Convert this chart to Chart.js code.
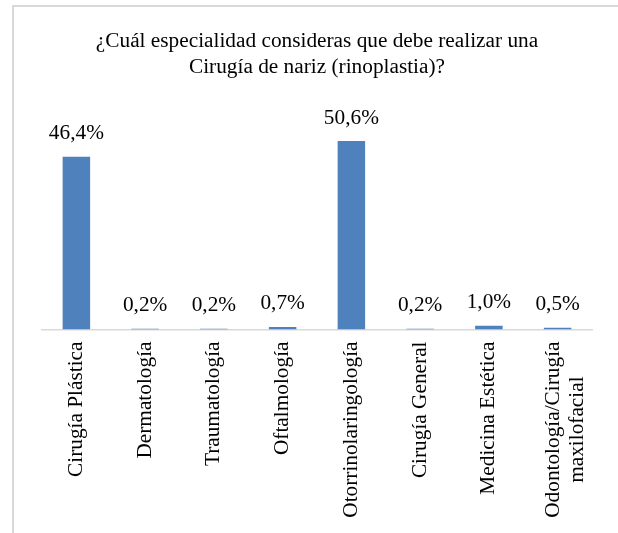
<!DOCTYPE html>
<html>
<head>
<meta charset="utf-8">
<script src="https://cdn.jsdelivr.net/npm/chart.js@4"></script>
<style>
  html, body { margin: 0; padding: 0; background: #fff; }
  #frame { position: absolute; left: 12px; top: 5px; width: 640px; height: 560px;
           border-left: 2px solid #d9d9d9; border-top: 2px solid #d9d9d9; }
  #wrap { position: absolute; left: 0; top: 0; width: 618px; height: 533px; }
</style>
</head>
<body>
<div id="frame"></div>
<div id="wrap"><canvas id="c" width="618" height="533"></canvas></div>
<script>
const titleLines = ["¿Cuál especialidad consideras que debe realizar una", "Cirugía de nariz (rinoplastia)?"];
const categories = [
  "Cirugía Plástica",
  "Dermatología",
  "Traumatología",
  "Oftalmología",
  "Otorrinolaringología",
  "Cirugía General",
  "Medicina Estética",
  ["Odontología/Cirugía", "maxilofacial"]
];
const percentages = [46.4, 0.2, 0.2, 0.7, 50.6, 0.2, 1.0, 0.5];

const FONT = "'Liberation Serif', 'Times New Roman', serif";
const FONT_STR = "21.3px " + FONT;

const valueLabels = {
  id: 'valueLabels',
  afterDatasetsDraw(chart) {
    const ctx = chart.ctx;
    const meta = chart.getDatasetMeta(0);
    ctx.save();
    ctx.font = FONT_STR;
    ctx.fillStyle = '#000';
    ctx.textAlign = 'center';
    ctx.textBaseline = 'middle';
    meta.data.forEach((bar, i) => {
      const v = chart.data.datasets[0].data[i];
      const txt = v.toFixed(1).replace('.', ',') + '%';
      ctx.fillText(txt, bar.x, bar.y - 23);
    });
    ctx.restore();
  }
};

// Center the lines of multi-line rotated category labels (as in the reference)
const centerMultiline = {
  id: 'centerMultiline',
  beforeDraw(chart) {
    const scale = chart.scales.x;
    const items = scale.getLabelItems(chart.chartArea);
    const ctx = chart.ctx;
    items.forEach(item => {
      if (Array.isArray(item.label) && item.label.length > 1 && !item._centered) {
        ctx.save();
        ctx.font = (item.font && item.font.string) || FONT_STR;
        const w = Math.max(...item.label.map(s => ctx.measureText(s).width));
        ctx.restore();
        item.options.textAlign = 'center';
        item.options.translation = [item.options.translation[0] - 4, item.options.translation[1] + w / 2];
        item._centered = true;
      }
    });
  }
};

new Chart(document.getElementById('c'), {
  type: 'bar',
  data: {
    labels: categories,
    datasets: [{
      data: percentages,
      backgroundColor: '#4f81bd',
      borderWidth: 0,
      categoryPercentage: 1.0,
      barPercentage: 0.4
    }]
  },
  options: {
    responsive: false,
    animation: false,
    devicePixelRatio: 1,
    layout: { padding: { left: 42, right: 26, top: 29, bottom: 0 } },
    plugins: {
      legend: { display: false },
      tooltip: { enabled: false },
      title: {
        display: true,
        text: titleLines,
        color: '#000',
        font: { family: FONT, size: 21.3, weight: 'normal', lineHeight: 1.2 },
        padding: { top: 0, bottom: 26 }
      }
    },
    scales: {
      x: {
        grid: { display: false, drawTicks: false },
        border: { display: true, color: '#d9d9d9', width: 1.5 },
        ticks: {
          color: '#000',
          font: { family: FONT, size: 21.3, lineHeight: 1.1 },
          minRotation: 90,
          maxRotation: 90,
          autoSkip: false,
          padding: 12
        },
        afterFit(scale) {
          scale.height = 203.5;
          scale.paddingLeft = 0;
          scale.paddingRight = 0;
        }
      },
      y: {
        display: false,
        min: 0,
        max: 60
      }
    }
  },
  plugins: [valueLabels, centerMultiline]
});
</script>
</body>
</html>
